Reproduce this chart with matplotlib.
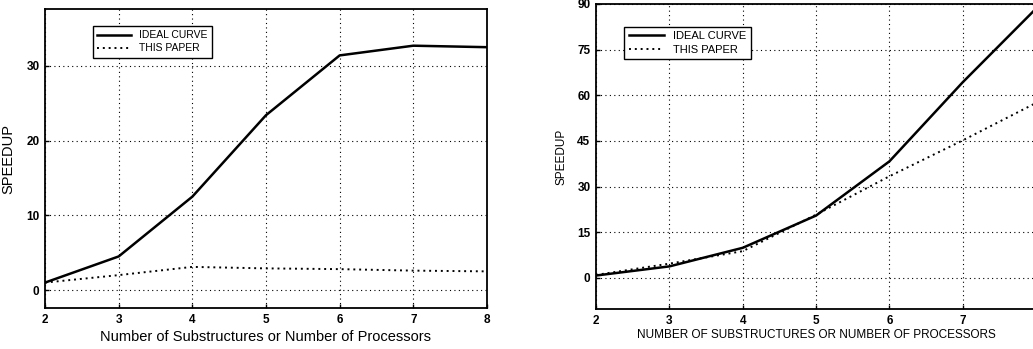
import matplotlib.pyplot as plt
from matplotlib import font_manager

# data
procs = [2, 3, 4, 5, 6, 7, 8]
ideal_left = [1.0, 4.5, 12.5, 23.4, 31.4, 32.7, 32.5]
paper_left = [1.0, 2.0, 3.1, 2.9, 2.8, 2.6, 2.5]
ideal_right = [0.8, 3.8, 9.9, 20.5, 38.3, 64.3, 88.5]
paper_right = [1.0, 4.7, 8.8, 20.8, 33.4, 45.2, 57.5]

left_yticks = [0, 10, 20, 30]
right_yticks = [0, 15, 30, 45, 60, 75, 90]

names = {f.name for f in font_manager.fontManager.ttflist}
narrow = 'Liberation Sans Narrow' if 'Liberation Sans Narrow' in names else 'Liberation Sans'
plt.rcParams['font.family'] = ['Liberation Sans', 'DejaVu Sans']

fig = plt.figure(figsize=(10.33, 3.49), dpi=100)
ax1 = fig.add_axes([0.0436, 0.1175, 0.4278, 0.8565])
ax2 = fig.add_axes([0.577, 0.1146, 0.426, 0.874])


def style(ax, yticks, ylim):
    ax.set_xlim(2, 8)
    ax.set_ylim(*ylim)
    ax.set_xticks(procs)
    ax.set_yticks(yticks)
    ax.grid(True, color='black', linestyle=(0, (1, 3)), linewidth=0.8)
    ax.tick_params(direction='in', length=3, width=1, pad=4)
    for lbl in ax.get_xticklabels() + ax.get_yticklabels():
        lbl.set_fontweight('bold')
        lbl.set_fontsize(8.5)
    for s in ax.spines.values():
        s.set_linewidth(1.3)


ax1.plot(procs, ideal_left, color='black', linewidth=1.8, label='IDEAL CURVE')
ax1.plot(procs, paper_left, color='black', linewidth=1.4, linestyle=(0, (1, 2)), label='THIS PAPER')
style(ax1, left_yticks, (-2.4, 37.6))
ax1.set_xlabel('Number of Substructures or Number of Processors', fontsize=10.5, labelpad=3)
ax1.set_ylabel('SPEEDUP', fontsize=10.5)
ax1.yaxis.set_label_coords(-0.068, 0.5)
leg1 = ax1.legend(loc='upper left', bbox_to_anchor=(0.109, 0.943), fancybox=False,
                  edgecolor='black', framealpha=1, borderaxespad=0, handlelength=3.2,
                  prop={'family': narrow, 'size': 7.5}, labelspacing=0.3)
leg1.get_frame().set_linewidth(1.0)

ax2.plot(procs, ideal_right, color='black', linewidth=1.8, label='IDEAL CURVE')
ax2.plot(procs, paper_right, color='black', linewidth=1.4, linestyle=(0, (1, 2)), label='THIS PAPER')
style(ax2, right_yticks, (-10.2, 90))
# the last tick label falls outside the cropped figure, as in the source
ax2.set_xticklabels([str(p) for p in procs[:-1]] + [''], fontweight='bold', fontsize=8.5)
ax2.set_xlabel('NUMBER OF SUBSTRUCTURES OR NUMBER OF PROCESSORS', fontsize=8.5,
               family=narrow, labelpad=2)
ax2.set_ylabel('SPEEDUP', fontsize=8.5, family=narrow)
ax2.yaxis.set_label_coords(-0.065, 0.5)
leg2 = ax2.legend(loc='upper left', bbox_to_anchor=(0.064, 0.925), fancybox=False,
                  edgecolor='black', framealpha=1, borderaxespad=0, handlelength=3.2,
                  prop={'family': narrow, 'size': 8}, labelspacing=0.3)
leg2.get_frame().set_linewidth(1.0)

fig.savefig('out.png', dpi=100)
